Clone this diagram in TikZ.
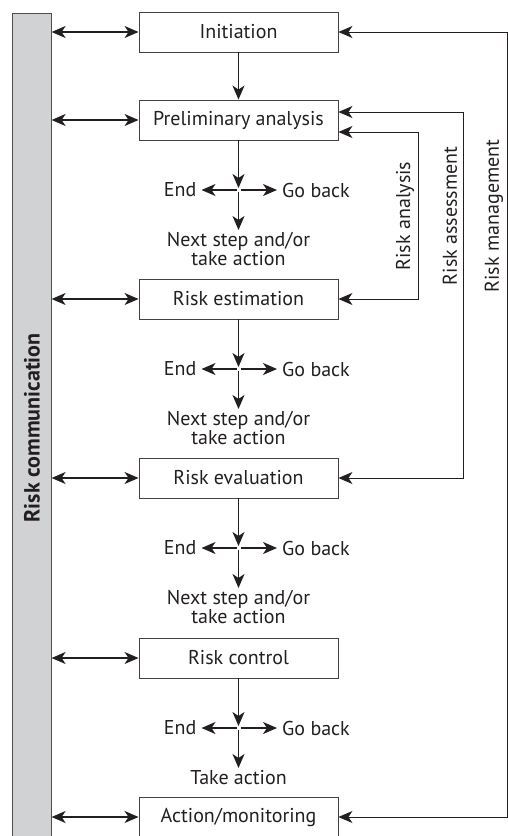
\documentclass[tikz,border=0pt]{standalone}
\usepackage{fontspec}
\setmainfont{PT Sans}
\usetikzlibrary{arrows.meta}
\definecolor{ink}{HTML}{231F20}
\definecolor{barfill}{HTML}{D1D2D4}
\begin{document}
\begin{tikzpicture}[x=1pt,y=1pt,
  every node/.style={text=ink},
  tip/.tip={Stealth[length=14pt,width=12pt,inset=4pt]},
  txt/.style={font=\fontsize{20}{18}\selectfont, inner sep=0pt},
  stage/.style={draw=ink!85, line width=0.9pt, minimum width=199, minimum height=40,
    inner sep=0pt, font=\fontsize{20}{18}\selectfont},
  flow/.style={line width=1.5pt, draw=ink, -tip},
  both/.style={line width=1.5pt, draw=ink, tip-tip},
  wire/.style={line width=0.9pt, draw=ink, tip-tip}]
\useasboundingbox (0,0) rectangle (508,-836);

% communication bar on the left
\node[draw=ink!80, fill=barfill, line width=0.9pt, minimum width=39, minimum height=850,
  anchor=north west, inner sep=0pt] (comm) at (11.7,-12.7) {};
\node[rotate=90, font=\fontsize{22}{18}\selectfont\bfseries, inner sep=0pt] (commlbl) at (32,-428) {Risk communication};

% stages
\node[stage] (init)   at (238.5,-32)  {Initiation};
\node[stage] (prelim) at (238.5,-120) {Preliminary analysis};
\node[stage] (est)    at (238.5,-299) {Risk estimation};
\node[stage] (eval)   at (238.5,-478) {Risk evaluation};
\node[stage] (ctrl)   at (238.5,-658) {Risk control};
\node[stage] (act)    at (238.5,-817) {Action/monitoring};

\draw[flow] (init) -- (prelim);

% decision crosses below each stage
\foreach \src/\cy/\nm/\nxt in {prelim/190/a/{Next step and/or\\take action},
                                est/369/b/{Next step and/or\\take action},
                                eval/548/c/{Next step and/or\\take action},
                                ctrl/728/d/{Take action}}{
  \coordinate (xu\nm) at (238.5,-\cy+2);
  \coordinate (xl\nm) at (236.5,-\cy);
  \coordinate (xr\nm) at (240.5,-\cy);
  \coordinate (xd\nm) at (238.5,-\cy-2);
  \node[txt, anchor=east] (end\nm) at (196.5,-\cy) {End};
  \node[txt, anchor=west] (back\nm) at (282,-\cy) {Go back};
  \node[txt, align=center, anchor=north] (next\nm) at (238.5,-\cy-42) {\nxt};
  \draw[flow] (\src) -- (xu\nm);
  \draw[flow] (xl\nm) -- ([xshift=5pt]end\nm.east);
  \draw[flow] (xr\nm) -- ([xshift=-5pt]back\nm.west);
  \draw[flow] (xd\nm) -- ([yshift=2pt]next\nm.north);
}

% links to the communication bar
\foreach \s in {init,prelim,est,eval,ctrl,act}
  \draw[both] (comm.east |- \s.west) -- (\s.west);

% risk analysis loop
\coordinate (raT) at (418,-132);
\coordinate (raB) at (418,-299);
\draw[wire] (prelim.east |- raT) -- (raT) -- (raB) -- (est.east);
\node[txt, rotate=90] (ralbl) at (405,-216) {Risk analysis};

% risk assessment loop
\coordinate (rsT) at (463,-112);
\coordinate (rsB) at (463,-478);
\draw[wire] (prelim.east |- rsT) -- (rsT) -- (rsB) -- (eval.east);
\node[txt, rotate=90] (rslbl) at (450,-216) {Risk assessment};

% risk management loop
\coordinate (rmT) at (507,-32);
\coordinate (rmB) at (507,-817);
\draw[wire] (init.east) -- (rmT) -- (rmB) -- (act.east);
\node[txt, rotate=90] (rmlbl) at (494,-216) {Risk management};
\end{tikzpicture}
\end{document}
